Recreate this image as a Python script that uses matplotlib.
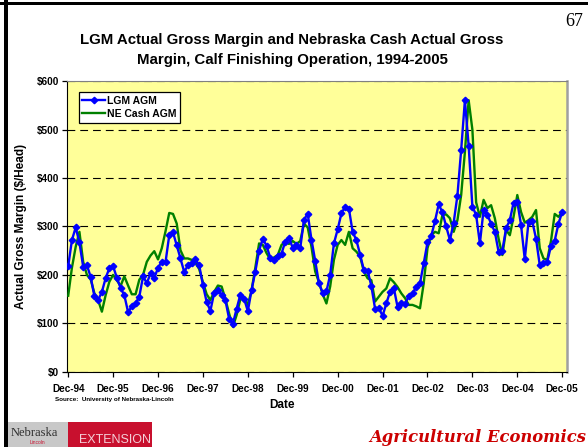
import matplotlib
matplotlib.use('Agg')
import matplotlib.pyplot as plt
from matplotlib.patches import Rectangle
import numpy as np

# monthly values, Dec-94 .. Dec-05 ($/head)
tick_labels = ['Dec-94', 'Dec-95', 'Dec-96', 'Dec-97', 'Dec-98', 'Dec-99',
               'Dec-00', 'Dec-01', 'Dec-02', 'Dec-03', 'Dec-04', 'Dec-05']
lgm_agm = [218, 272, 298, 267, 217, 220, 196, 156, 148, 165, 193, 214,
           218, 194, 173, 158, 123, 135, 141, 155, 197, 183, 203, 193,
           215, 227, 226, 282, 288, 261, 234, 206, 220, 224, 232, 220,
           179, 144, 126, 163, 169, 158, 148, 109, 99, 130, 159, 151,
           125, 169, 207, 250, 275, 260, 235, 230, 239, 244, 269, 276,
           256, 262, 255, 314, 326, 273, 229, 183, 163, 166, 200, 265,
           294, 327, 341, 337, 289, 272, 242, 210, 209, 177, 130, 132,
           115, 141, 165, 173, 134, 141, 140, 156, 162, 175, 183, 224,
           267, 280, 311, 346, 329, 300, 272, 308, 364, 458, 561, 467,
           341, 324, 265, 335, 324, 306, 289, 248, 250, 296, 313, 349,
           351, 303, 232, 310, 311, 275, 220, 225, 227, 260, 271, 306,
           330]
ne_cash_agm = [157, 215, 258, 289, 227, 200, 191, 162, 148, 124, 158, 186,
               200, 189, 177, 197, 178, 160, 160, 190, 200, 227, 240, 249,
               232, 255, 290, 328, 326, 306, 251, 234, 234, 231, 225, 212,
               185, 160, 148, 165, 178, 176, 150, 120, 93, 117, 150, 152,
               138, 168, 215, 265, 262, 245, 232, 236, 241, 262, 268, 264,
               270, 264, 270, 306, 298, 258, 207, 185, 160, 141, 176, 231,
               262, 272, 262, 289, 255, 248, 238, 207, 193, 189, 145, 155,
               165, 172, 193, 185, 175, 162, 152, 138, 138, 135, 131, 183,
               255, 282, 289, 286, 324, 325, 317, 289, 313, 365, 454, 561,
               500, 350, 320, 355, 338, 344, 317, 275, 241, 293, 282, 320,
               365, 330, 308, 313, 320, 334, 255, 234, 231, 270, 326, 320,
               330]

plt.rcParams['font.family'] = ['Liberation Sans', 'DejaVu Sans']

W, H = 588, 447
fig = plt.figure(figsize=(W / 100, H / 100), dpi=100)


def fx(x):
    return x / W


def fy(y):
    return 1 - y / H


# slide frame
fig.add_artist(Rectangle((fx(0), fy(5)), 1, 3 / H, transform=fig.transFigure,
                         color='black', lw=0))
fig.add_artist(Rectangle((fx(4), 0), 4 / W, 1, transform=fig.transFigure,
                         color='black', lw=0))

ax = fig.add_axes([fx(66.7), fy(371.7), 500 / W, 290.4 / H])
ax.set_facecolor('#FFFF99')

months = np.arange(len(lgm_agm))
ne_line, = ax.plot(months, ne_cash_agm, color='#008000', lw=1.7, zorder=3)
lgm_line, = ax.plot(months, lgm_agm, color='#0000FF', lw=1.7, marker='D',
                    ms=3.3, zorder=4)

ax.set_xlim(-0.4, 133.2)
ax.set_ylim(0, 600)
ax.set_xticks(np.arange(0, 133, 12))
ax.set_xticklabels(tick_labels)
ax.set_yticks(range(0, 700, 100))
ax.set_yticklabels([f'${v}' for v in range(0, 700, 100)])
ax.yaxis.grid(True, color='black', lw=0.8, ls=(0, (7, 4.5)))
ax.set_axisbelow(True)
ax.tick_params(axis='both', direction='out', length=3.5, width=0.9,
               labelsize=7.2, pad=2)
for lab in ax.get_xticklabels() + ax.get_yticklabels():
    lab.set_fontweight('bold')
ax.tick_params(axis='x', pad=5)

ax.spines['left'].set_color('black')
ax.spines['bottom'].set_color('black')
ax.spines['top'].set_color('#808080')
ax.spines['right'].set_color('#a0a0a0')
ax.spines['right'].set_linewidth(1.8)

leg = ax.legend([lgm_line, ne_line], ['LGM AGM', 'NE Cash AGM'],
                loc='upper left', bbox_to_anchor=(0.024, 0.962),
                frameon=True, fancybox=False, edgecolor='black',
                framealpha=1, prop={'weight': 'bold', 'size': 7.5},
                handlelength=2.2, handletextpad=0.15, borderpad=0.35,
                labelspacing=0.3, numpoints=1, borderaxespad=0)
leg.get_frame().set_linewidth(0.9)

fig.text(fx(21), fy(226), 'Actual Gross Margin ($/Head)', rotation=90,
         ha='center', va='center', fontsize=8.5, fontweight='bold')

fig.text(fx(292), fy(40), 'LGM Actual Gross Margin and Nebraska Cash Actual Gross',
         ha='center', va='center', fontsize=10.8, fontweight='bold')
fig.text(fx(292), fy(60), 'Margin, Calf Finishing Operation, 1994-2005',
         ha='center', va='center', fontsize=10.8, fontweight='bold')
fig.text(fx(583), fy(22), '67', ha='right', va='center', fontsize=13,
         family='Liberation Serif')

fig.text(fx(282), fy(405), 'Date', ha='center', va='center', fontsize=8.5,
         fontweight='bold')
fig.text(fx(55), fy(400), 'Source:  University of Nebraska-Lincoln',
         ha='left', va='center', fontsize=4.5, fontweight='bold')

# footer logos
fig.add_artist(Rectangle((fx(8), 0), 60 / W, 25 / H, transform=fig.transFigure,
                         color='#c8c8c8', lw=0))
fig.add_artist(Rectangle((fx(68), 0), 84 / W, 25 / H, transform=fig.transFigure,
                         color='#c8102e', lw=0))
fig.text(fx(11), fy(433), 'Nebraska', ha='left', va='center', fontsize=9,
         family='Liberation Serif', color='#303030')
fig.text(fx(30), fy(443), 'Lincoln', ha='left', va='center', fontsize=3.5,
         color='#c8102e')
fig.text(fx(79), fy(440), 'EXTENSION', ha='left', va='center', fontsize=9,
         color='#f4d0d8')
fig.text(fx(586), fy(437), 'Agricultural Economics', ha='right', va='center',
         fontsize=11.8, fontweight='bold', style='italic',
         family='DejaVu Serif', color='#cc0000')

fig.savefig('out.png', dpi=100)
